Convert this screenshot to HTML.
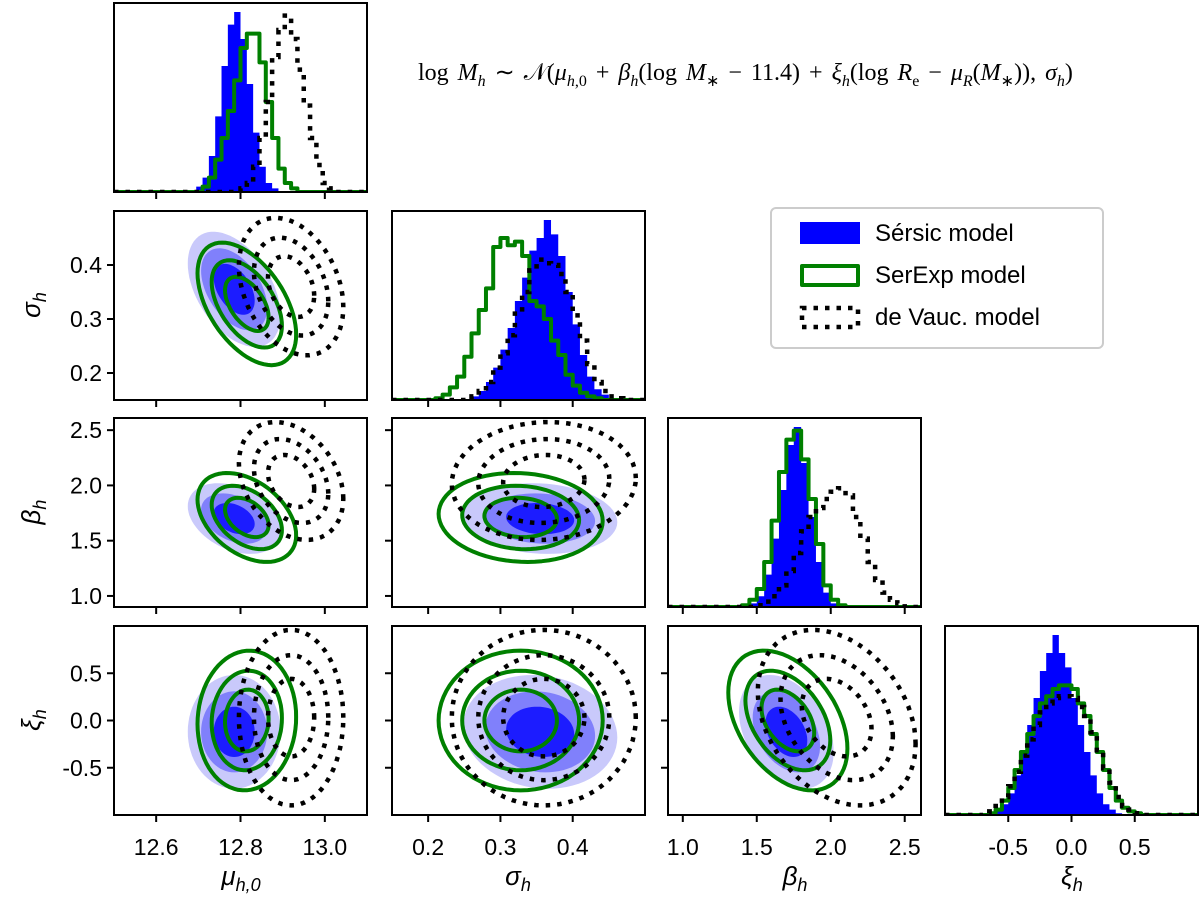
<!DOCTYPE html>
<html><head><meta charset="utf-8"><style>
html,body{margin:0;padding:0;background:#fff;}
#wrap{position:relative;width:1200px;height:901px;overflow:hidden;}
svg text{font-family:"Liberation Sans","DejaVu Sans",sans-serif;}
.title{position:absolute;left:418px;top:58px;font-family:"Liberation Serif",serif;font-size:24px;word-spacing:3px;white-space:nowrap;}
.title i{font-style:italic}
.title sub{font-size:16px;}
</style></head><body>
<div id="wrap">
<svg id="chart" width="1200" height="901"></svg>
<div class="title">log <i>M</i><sub><i>h</i></sub> ∼ 𝒩(<i>μ</i><sub><i>h</i>,0</sub> + <i>β</i><sub><i>h</i></sub>(log <i>M</i><sub>∗</sub> − 11.4) + <i>ξ</i><sub><i>h</i></sub>(log <i>R</i><sub>e</sub> − <i>μ</i><sub><i>R</i></sub>(<i>M</i><sub>∗</sub>)), <i>σ</i><sub><i>h</i></sub>)</div>
</div>
<script>
// ---- data ----
const paramNames = ["mu", "sigma", "beta", "xi"];
const ranges = [[12.5,13.1],[0.15,0.5],[0.9,2.61],[-1,1]];
const ticksMu = [12.6,12.8,13.0];
const ticksSigma = [0.2,0.3,0.4];
const ticksBeta = [1.0,1.5,2.0,2.5];
const ticksXi = [-0.5,0.0,0.5];
const tickLabelsMu = ["12.6","12.8","13.0"];
const tickLabelsSigma = ["0.2","0.3","0.4"];
const tickLabelsBeta = ["1.0","1.5","2.0","2.5"];
const tickLabelsXi = ["-0.5","0.0","0.5"];
const binWidths = [0.015,0.01,0.05,0.05];
// histograms (relative heights)
const histMuSersic = [0,0,0,0,0,0,0,0,0,0,0,0,0,.03,.08,.2,.42,.7,.93,1.0,.85,.6,.33,.14,.05,.02,0,0,0,0,0,0,0,0,0,0,0,0,0,0];
const histMuSerExp = [0,0,0,0,0,0,0,0,0,0,0,0,0,0,.03,.08,.18,.3,.45,.62,.8,.88,.88,.72,.5,.3,.13,.05,.02,0,0,0,0,0,0,0,0,0,0,0];
const histMuDeVauc = [0,0,0,0,0,0,0,0,0,0,0,0,0,0,0,0,0,0,0,0,.02,.05,.14,.3,.5,.75,.9,.98,.85,.68,.48,.3,.15,.05,.02,0,0,0,0,0];
const histSigmaSersic = [0,0,0,0,0,0,0,0,0,0,0,.02,.05,.1,.18,.28,.4,.55,.68,.83,.9,1.0,.92,.8,.6,.42,.25,.13,.06,.03,.01,0,0,0,0];
const histSigmaSerExp = [0,0,0,0,0,0,.01,.03,.07,.13,.24,.37,.5,.62,.85,.9,.86,.88,.8,.55,.52,.45,.33,.25,.14,.08,.04,.02,.01,0,0,0,0,0,0];
const histSigmaDeVauc = [0,0,0,0,0,0,0,0,0,0,0,.02,.05,.1,.18,.26,.36,.48,.6,.72,.78,.76,.75,.7,.6,.47,.33,.2,.1,.05,.02,.01,0,0,0];
const histBetaSersic = [0,0,0,0,0,0,0,0,0,0,0,.02,.06,.18,.38,.65,.9,1.0,.8,.5,.25,.08,.02,0,0,0,0,0,0,0,0,0,0,0];
const histBetaSerExp = [0,0,0,0,0,0,0,0,0,0,.01,.04,.1,.25,.48,.75,.93,.98,.82,.6,.35,.12,.04,.01,0,0,0,0,0,0,0,0,0,0];
const histBetaDeVauc = [0,0,0,0,0,0,0,0,0,0,0,0,.01,.03,.06,.12,.2,.3,.42,.5,.55,.6,.64,.66,.62,.5,.38,.25,.15,.08,.04,.02,0,0];
const histXiSersic = [0,0,0,0,0,0,0,0,.02,.06,.12,.22,.35,.5,.65,.8,.9,1.0,.9,.82,.65,.5,.35,.22,.12,.06,.03,.01,0,0,0,0,0,0,0,0,0,0,0,0];
const histXiSerExp = [0,0,0,0,0,0,0,.01,.03,.08,.15,.25,.35,.45,.55,.62,.66,.7,.72,.72,.7,.62,.55,.45,.35,.25,.15,.08,.04,.02,.01,0,0,0,0,0,0,0,0,0];
const histXiDeVauc = [0,0,0,0,0,0,.01,.02,.05,.1,.16,.24,.33,.42,.5,.57,.62,.65,.66,.66,.65,.6,.55,.46,.36,.26,.18,.1,.05,.03,.01,0,0,0,0,0,0,0,0,0];
// 2D posterior summaries: means, sds per param (mu, sigma, beta, xi)
const meanSersic = [12.785, 0.355, 1.70, -0.12];
const sdSersic = [0.032, 0.031, 0.093, 0.175];
const meanSerExp = [12.815, 0.328, 1.71, 0.0];
const sdSerExp = [0.034, 0.033, 0.117, 0.215];
const meanDeVauc = [12.92, 0.36, 2.04, 0.03];
const sdDeVauc = [0.036, 0.037, 0.155, 0.27];
// correlations for pairs: mu-sigma, mu-beta, sigma-beta, mu-xi, sigma-xi, beta-xi
const pairs = [[1,0],[2,0],[2,1],[3,0],[3,1],[3,2]];
const rhoSersic = [-0.45,-0.35,-0.1,0.0,-0.1,-0.35];
const rhoSerExp = [-0.5,-0.4,-0.08,0.05,0.0,-0.4];
const rhoDeVauc = [-0.3,-0.3,0.05,0.0,0.0,-0.3];
const levelRadii = [1.52, 2.45, 3.44];

// ---- layout ----
const colX = [114,392,668,945], rowY = [3,211,418,626], W = 253, H = 189;
const ticksAll = [ticksMu,ticksSigma,ticksBeta,ticksXi];
const labelsAll = [tickLabelsMu,tickLabelsSigma,tickLabelsBeta,tickLabelsXi];
const NS = "http://www.w3.org/2000/svg";
const svg = document.getElementById("chart");
function mk(tag, attrs, parent){ const e=document.createElementNS(NS,tag); for(const k in attrs) e.setAttribute(k,attrs[k]); (parent||svg).appendChild(e); return e; }
function sx(p,v,col){ const r=ranges[p]; return colX[col]+(v-r[0])/(r[1]-r[0])*W; }
function sy(p,v,row){ const r=ranges[p]; return rowY[row]+H-(v-r[0])/(r[1]-r[0])*H; }
const defs = mk("defs",{});
for(let i=0;i<4;i++){ for(let j=0;j<=i;j++){ const cp=mk("clipPath",{id:"c"+i+"_"+j},defs); mk("rect",{x:colX[j],y:rowY[i],width:W,height:H},cp); } }

const models = [
  {name:"sersic", hist:[histMuSersic,histSigmaSersic,histBetaSersic,histXiSersic], mean:meanSersic, sd:sdSersic, rho:rhoSersic},
  {name:"serexp", hist:[histMuSerExp,histSigmaSerExp,histBetaSerExp,histXiSerExp], mean:meanSerExp, sd:sdSerExp, rho:rhoSerExp},
  {name:"devauc", hist:[histMuDeVauc,histSigmaDeVauc,histBetaDeVauc,histXiDeVauc], mean:meanDeVauc, sd:sdDeVauc, rho:rhoDeVauc}
];
const greenStyle = {fill:"none",stroke:"#008000","stroke-width":4,"stroke-linejoin":"round"};
const blackStyle = {fill:"none",stroke:"#000","stroke-width":4.5,"stroke-dasharray":"4.5 7"};

// ---- histograms ----
for(let p=0;p<4;p++){
  const g = mk("g",{"clip-path":"url(#c"+p+"_"+p+")"});
  
  
  const yMax = 1.05, base = rowY[p]+H, r0 = ranges[p][0], bw = binWidths[p];
  models.forEach((m,mi)=>{
    const h = m.hist[p];
    let d = "M"+colX[p]+","+base;
    for(let i=0;i<h.length;i++){
      const x0 = sx(p,r0+i*bw,p), x1 = sx(p,r0+(i+1)*bw,p), y = base-h[i]/yMax*H;
      d += " L"+x0+","+y+" L"+x1+","+y;
    }
    d += " L"+(colX[p]+W)+","+base;
    let path;
    if(mi===0) path = mk("path",{d:d+" Z",fill:"#0000ff",stroke:"none"},g);
    else if(mi===1) path = mk("path",Object.assign({d:d},greenStyle),g);
    else path = mk("path",Object.assign({d:d},blackStyle),g);
    
    
  });
}

// ---- 2D contours ----
function ellipse(row,col,m,k,r){
  const mx=m.mean[col], my=m.mean[row], a=m.sd[col], b=m.sd[row], rho=m.rho[k];
  const s=Math.sqrt(1-rho*rho); let d="";
  for(let t=0;t<=72;t++){
    const th=t/72*2*Math.PI;
    const vx=mx+r*a*Math.cos(th), vy=my+r*b*(rho*Math.cos(th)+s*Math.sin(th));
    d+=(t?" L":"M")+sx(col,vx,col).toFixed(1)+","+sy(row,vy,row).toFixed(1);
  }
  return d+" Z";
}
const blueFills = ["#c9c9fb","#8080fb","#1c1cff"];
pairs.forEach((pr,k)=>{
  const [row,col]=pr;
  const g = mk("g",{"clip-path":"url(#c"+row+"_"+col+")"});
  
  
  levelRadii.slice().reverse().forEach((r,i)=>{
    const e = mk("path",{d:ellipse(row,col,models[0],k,r),fill:blueFills[i],stroke:"none"},g);
    
    
  });
  levelRadii.forEach(r=>{
    const e = mk("path",Object.assign({d:ellipse(row,col,models[1],k,r)},greenStyle),g);
    
    
  });
  levelRadii.forEach(r=>{
    const e = mk("path",Object.assign({d:ellipse(row,col,models[2],k,r)},blackStyle),g);
    
    
  });
});

// ---- frames & ticks ----
for(let i=0;i<4;i++){ for(let j=0;j<=i;j++){
  const f = mk("rect",{x:colX[j],y:rowY[i],width:W,height:H,fill:"none",stroke:"#000","stroke-width":2});
  
  
  ticksAll[j].forEach((v,ti)=>{
    const x=sx(j,v,j);
    mk("line",{x1:x,x2:x,y1:rowY[i]+H,y2:rowY[i]+H+7,stroke:"#000","stroke-width":2});
    if(i===3){
      const t = mk("text",{x:x,y:rowY[i]+H+40,"text-anchor":"middle","font-size":23}); t.textContent=labelsAll[j][ti];
      
      
    }
  });
  if(i!==j){
    ticksAll[i].forEach((v,ti)=>{
      const y=sy(i,v,i);
      mk("line",{x1:colX[j]-7,x2:colX[j],y1:y,y2:y,stroke:"#000","stroke-width":2});
      if(j===0){
        const t = mk("text",{x:colX[0]-12,y:y+8,"text-anchor":"end","font-size":23}); t.textContent=labelsAll[i][ti];
        
        
      }
    });
  }
}}

// ---- axis titles ----
function mathLabel(x,y,main,sub,rot,name){
  const t = mk("text",{x:x,y:y,"text-anchor":"middle","font-size":26,"font-family":"Liberation Serif, serif","font-style":"italic"});
  if(rot) t.setAttribute("transform","rotate(-90 "+x+" "+y+")");
  const a = mk("tspan",{},t); a.textContent=main;
  const b = mk("tspan",{dy:6,"font-size":18},t); b.textContent=sub;
  
  
}
mathLabel(241,885,"μ","h,0",false,"x-axis-title-mu");
mathLabel(518,885,"σ","h",false,"x-axis-title-sigma");
mathLabel(795,885,"β","h",false,"x-axis-title-beta");
mathLabel(1072,885,"ξ","h",false,"x-axis-title-xi");
mathLabel(40,305,"σ","h",true,"y-axis-title-sigma");
mathLabel(40,512,"β","h",true,"y-axis-title-beta");
mathLabel(40,720,"ξ","h",true,"y-axis-title-xi");

// ---- legend ----
const lg = mk("g",{});


mk("rect",{x:771,y:208,width:332,height:140,rx:5,fill:"#fff",stroke:"#ccc","stroke-width":2},lg);
const legendLabels = ["Sérsic model","SerExp model","de Vauc. model"];
legendLabels.forEach((lab,i)=>{
  const y = 222+i*42;
  let sw;
  if(i===0) sw = mk("rect",{x:800,y:y,width:60,height:22,fill:"#0000ff"},lg);
  else if(i===1) sw = mk("rect",Object.assign({x:802,y:y+2,width:56,height:19},greenStyle),lg);
  else sw = mk("rect",Object.assign({x:802,y:y+2,width:56,height:19},blackStyle),lg);
  
  
  const t = mk("text",{x:875,y:y+19,"font-size":24},lg); t.textContent=lab;
  
  
});
</script>
</body></html>
